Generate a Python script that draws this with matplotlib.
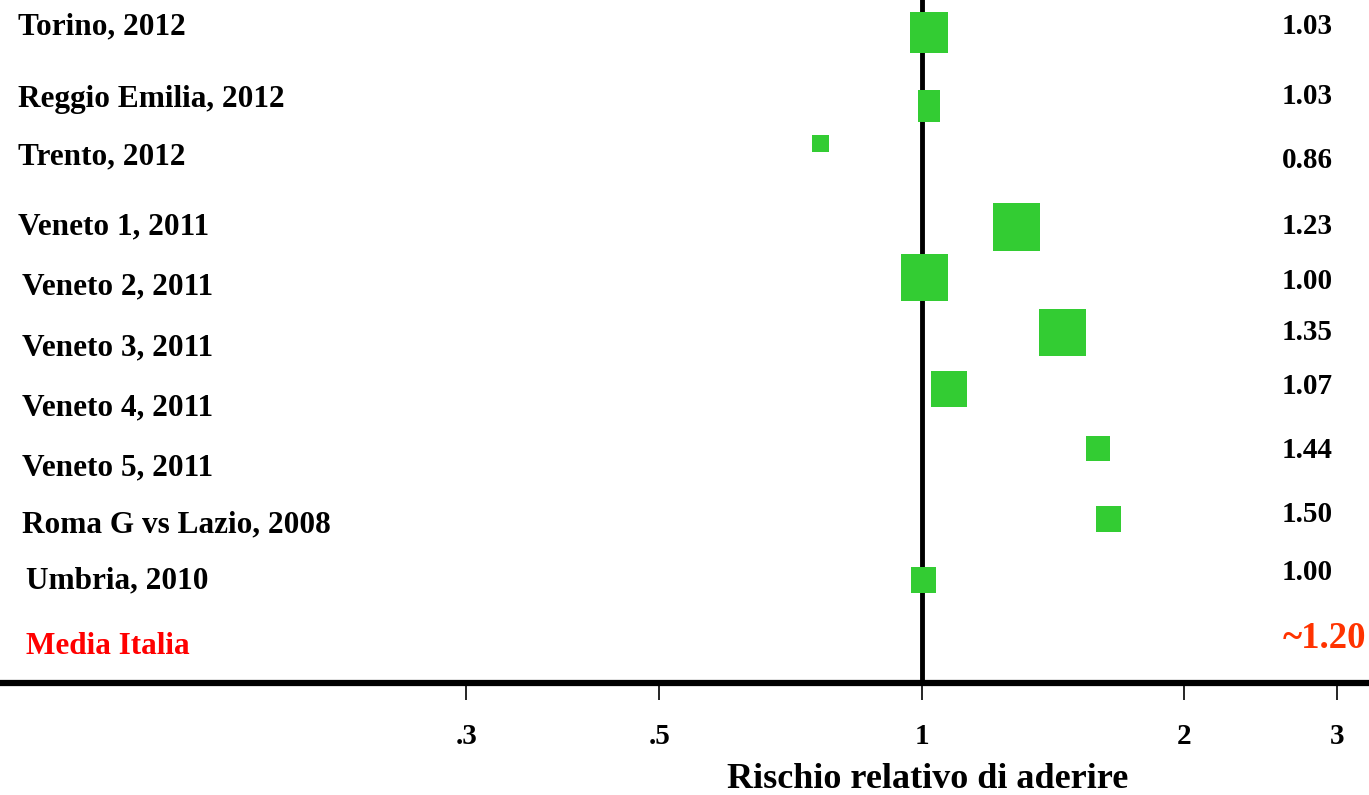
import numpy as np
import matplotlib
matplotlib.use("Agg")
import matplotlib.pyplot as plt

# Data
studies = ["Torino, 2012", "Reggio Emilia, 2012", "Trento, 2012", "Veneto 1, 2011",
           "Veneto 2, 2011", "Veneto 3, 2011", "Veneto 4, 2011", "Veneto 5, 2011",
           "Roma G vs Lazio, 2008", "Umbria, 2010"]
rr_plotted = [1.02, 1.02, 0.765, 1.284, 1.007, 1.45, 1.074, 1.593, 1.638, 1.004]
rr_labels = ["1.03", "1.03", "0.86", "1.23", "1.00", "1.35", "1.07", "1.44", "1.50", "1.00"]
mean_label = "Media Italia"
mean_value = "~1.20"
ticks = [0.3, 0.5, 1, 2, 3]
tick_labels = [".3", ".5", "1", "2", "3"]

# Layout (pixels from the top of the picture)
W, H = 1369, 795
axis_y = 683
row_y = [32.5, 106, 143.5, 227, 277.5, 332.5, 389, 448.5, 519, 580]
box_w = [38, 22, 17, 47, 47, 47, 36, 24, 25, 25]
box_h = [41, 32, 17, 48, 47, 47, 36, 25, 26, 26]
label_x = [18, 18, 18, 18, 22, 22, 22, 22, 22, 26]
label_y = [27, 99, 157, 227, 287, 348, 408, 468, 525, 581]
value_y = [27, 97, 160, 227, 282, 333, 387, 450, 514, 572]

px_per_ln = 378.0
font = "Liberation Serif"
green = "#33CC33"

fig = plt.figure(figsize=(W / 100, H / 100), dpi=100)
ax = fig.add_axes([0, (H - axis_y) / H, 1, axis_y / H])
ax.set_xscale("log")
ax.set_xlim(0.0875, 3.263)
ax.set_ylim(axis_y, 0)

# reference line at RR = 1
ax.axvline(1, color="black", lw=3.5, zorder=1)

# boxes, sized in pixels around each estimate
c = np.array(rr_plotted)
half = np.array(box_w) / 2 / px_per_ln
left = c * np.exp(-half)
right = c * np.exp(half)
ax.barh(row_y, right - left, height=box_h, left=left, color=green,
        edgecolor="none", zorder=2)

for s in ["top", "left", "right"]:
    ax.spines[s].set_visible(False)
ax.spines["bottom"].set_linewidth(4.5)
ax.set_yticks([])
ax.minorticks_off()
ax.set_xticks(ticks)
ax.set_xticklabels(tick_labels, fontsize=21, fontweight="bold", family=font)
ax.tick_params(axis="x", which="major", length=12, width=1.2, pad=17)
ax.tick_params(axis="x", which="minor", length=0)

def fx(x):
    return x / W

def fy(y):
    return 1 - y / H

for name, x, y in zip(studies, label_x, label_y):
    fig.text(fx(x), fy(y), name, ha="left", va="center", fontsize=22.5,
             fontweight="bold", family=font)
fig.text(fx(26), fy(647), mean_label, ha="left", va="center", fontsize=22.5,
         fontweight="bold", family=font, color="#FF0000")

for v, y in zip(rr_labels, value_y):
    fig.text(fx(1333), fy(y), v, ha="right", va="center", fontsize=21,
             fontweight="bold", family=font)
fig.text(fx(1366), fy(639), mean_value, ha="right", va="center", fontsize=26.5,
         fontweight="bold", family=font, color="#FF3300")

fig.text(fx(928), fy(779), "Rischio relativo di aderire", ha="center", va="center",
         fontsize=26, fontweight="bold", family=font)

fig.savefig("out.png", dpi=100)
